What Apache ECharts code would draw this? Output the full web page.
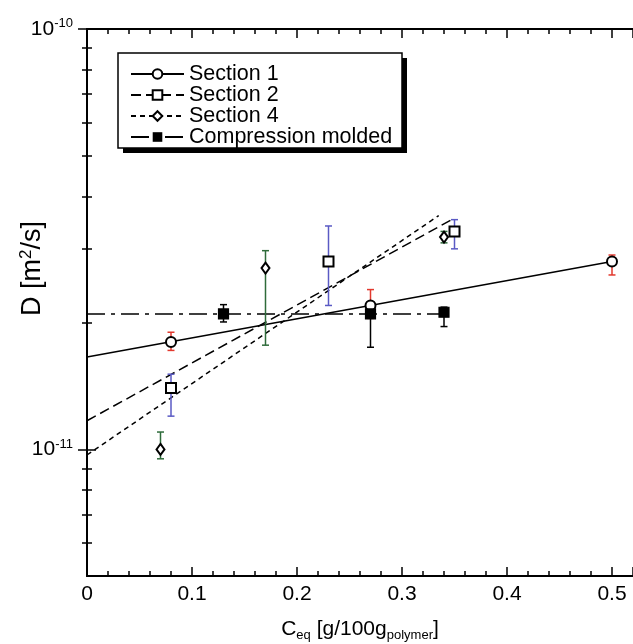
<!DOCTYPE html>
<html>
<head>
<meta charset="utf-8">
<script src="https://cdn.jsdelivr.net/npm/echarts/dist/echarts.min.js"></script>
<style>
  html, body { margin: 0; padding: 0; background: #fff; }
  #chart { width: 633px; height: 644px; }
</style>
</head>
<body>
<div id="chart"></div>
<script>
// --- data ---
var seriesNames = ['Section 1', 'Section 2', 'Section 4', 'Compression molded'];

var sec1X = [0.08, 0.27, 0.5];
var sec1Y = [1.8e-11, 2.2e-11, 2.8e-11];
var sec1Lo = [1.72e-11, 2.05e-11, 2.6e-11];
var sec1Hi = [1.9e-11, 2.4e-11, 2.9e-11];
var sec1FitX = [0, 0.5];
var sec1FitY = [1.66e-11, 2.8e-11];

var sec2X = [0.08, 0.23, 0.35];
var sec2Y = [1.4e-11, 2.8e-11, 3.3e-11];
var sec2Lo = [1.2e-11, 2.2e-11, 3.0e-11];
var sec2Hi = [1.51e-11, 3.4e-11, 3.52e-11];
var sec2FitX = [0, 0.35];
var sec2FitY = [1.17e-11, 3.55e-11];

var sec4X = [0.07, 0.17, 0.34];
var sec4Y = [1.0e-11, 2.7e-11, 3.2e-11];
var sec4Lo = [9.5e-12, 1.77e-11, 3.1e-11];
var sec4Hi = [1.1e-11, 2.97e-11, 3.3e-11];
var sec4FitX = [0, 0.335];
var sec4FitY = [9.7e-12, 3.6e-11];

var compX = [0.13, 0.27, 0.34];
var compY = [2.1e-11, 2.1e-11, 2.12e-11];
var compLo = [2.01e-11, 1.75e-11, 1.96e-11];
var compHi = [2.21e-11, 2.2e-11, 2.18e-11];
var compFitX = [0, 0.34];
var compFitY = [2.1e-11, 2.1e-11];

var yMajorTicks = [1e-11, 1e-10];
var yMinorTicks = [6e-12, 7e-12, 8e-12, 9e-12, 2e-11, 3e-11, 4e-11, 5e-11, 6e-11, 7e-11, 8e-11, 9e-11];

var FONT = '"Liberation Sans", Arial, Helvetica, sans-serif';
var RED = '#e2392e', BLUE = '#5a5ac4', GREEN = '#2e6b3a';

function pairs(xs, ys) {
  return xs.map(function (x, i) { return [x, ys[i]]; });
}
function bars(xs, lo, hi) {
  return xs.map(function (x, i) { return [x, lo[i], hi[i]]; });
}

function errorBar(color) {
  return function (params, api) {
    var x = api.value(0);
    var top = api.coord([x, api.value(2)]);
    var bot = api.coord([x, api.value(1)]);
    var w = 3.5;
    var st = { stroke: color, lineWidth: 1.5 };
    return {
      type: 'group',
      children: [
        { type: 'line', shape: { x1: top[0], y1: top[1], x2: bot[0], y2: bot[1] }, style: st },
        { type: 'line', shape: { x1: top[0] - w, y1: top[1], x2: top[0] + w, y2: top[1] }, style: st },
        { type: 'line', shape: { x1: bot[0] - w, y1: bot[1], x2: bot[0] + w, y2: bot[1] }, style: st }
      ]
    };
  };
}

function fitLine(name, xs, ys, dash, symbol) {
  return {
    name: name, type: 'line', z: 2,
    data: pairs(xs, ys),
    showSymbol: false, symbol: symbol,
    itemStyle: { color: '#000' },
    lineStyle: { color: '#000', width: 1.5, type: dash },
    silent: true, animation: false
  };
}
function errSeries(xs, lo, hi, color) {
  return {
    type: 'custom', z: 3, animation: false, silent: true,
    renderItem: errorBar(color),
    encode: { x: 0, y: [1, 2] },
    data: bars(xs, lo, hi)
  };
}
function points(xs, ys, symbol, size) {
  return {
    type: 'scatter', z: 4, animation: false, silent: true,
    symbol: symbol, symbolSize: size,
    itemStyle: { color: '#000', borderColor: '#000', borderWidth: 1.2, opacity: 1 },
    data: pairs(xs, ys)
  };
}

function xAxisCfg(pos, interval, tickLen, showLine, showLabel) {
  return {
    type: 'value', position: pos, min: 0, max: 0.52, interval: interval,
    nameMoveOverlap: false,
    axisLine: { show: showLine, lineStyle: { color: '#000', width: 2 } },
    axisTick: { show: true, inside: true, length: tickLen, lineStyle: { color: '#000', width: 1.5 } },
    axisLabel: {
      show: showLabel, color: '#000', fontSize: 21, fontFamily: FONT, margin: 8,
      formatter: function (v) {
        var k = Math.round(v * 10);
        return Math.abs(v * 10 - k) < 1e-6 ? (k === 0 ? '0' : (k / 10).toFixed(1)) : '';
      }
    },
    splitLine: { show: false }
  };
}

function yAxisCfg(pos, ticks, tickLen, showLine, showLabel) {
  return {
    type: 'log', logBase: 10, position: pos, min: 5e-12, max: 1e-10,
    nameMoveOverlap: false,
    axisLine: { show: showLine, lineStyle: { color: '#000', width: 2 } },
    axisTick: { show: true, inside: true, length: tickLen, customValues: ticks, lineStyle: { color: '#000', width: 1.5 } },
    axisLabel: {
      show: showLabel, customValues: ticks, margin: 14,
      formatter: function (v) { return '{b|10}{s|' + Math.round(Math.log10(v)) + '}'; },
      rich: {
        b: { fontSize: 21, fontFamily: FONT, color: '#000' },
        s: { fontSize: 13, fontFamily: FONT, color: '#000', padding: [0, 0, 11, 0] }
      }
    },
    splitLine: { show: false }
  };
}

var xMain = xAxisCfg('bottom', 0.1, 9, true, true);
xMain.name = '{n|C}{sub|eq}{n| [g/100g}{sub|polymer}{n|]}';
xMain.nameLocation = 'middle';
xMain.nameGap = 41;
xMain.nameTextStyle = {
  rich: {
    n: { fontSize: 21, fontFamily: FONT, color: '#000' },
    sub: { fontSize: 13, fontFamily: FONT, color: '#000', padding: [12, 0, 0, 0] }
  }
};

var yMain = yAxisCfg('left', yMajorTicks, 9, true, true);
yMain.name = '{n|D [m}{sup|2}{n|/s]}';
yMain.nameLocation = 'middle';
yMain.nameGap = 39;
yMain.nameTextStyle = {
  padding: [0, 0, 0, 68],
  rich: {
    n: { fontSize: 27, fontFamily: FONT, color: '#000' },
    sup: { fontSize: 17, fontFamily: FONT, color: '#000', padding: [0, 0, 13, 0] }
  }
};

// legend frame (box + offset shadow) in pixels
var legendBox = { x: 118, y: 53, w: 284, h: 95, shadow: 5 };

var chart = echarts.init(document.getElementById('chart'), null, { renderer: 'canvas' });
chart.setOption({
  animation: false,
  backgroundColor: '#fff',
  grid: { left: 87, right: 0, top: 29, bottom: 68, containLabel: false, outerBoundsMode: 'none' },
  graphic: [
    { type: 'rect', z: 5, silent: true,
      shape: { x: legendBox.x + legendBox.shadow, y: legendBox.y + legendBox.shadow, width: legendBox.w, height: legendBox.h },
      style: { fill: '#000' } },
    { type: 'rect', z: 5, silent: true,
      shape: { x: legendBox.x, y: legendBox.y, width: legendBox.w, height: legendBox.h },
      style: { fill: '#fff', stroke: '#000', lineWidth: 1.5 } }
  ],
  legend: {
    orient: 'vertical', left: 130, top: 63, z: 10,
    data: seriesNames,
    itemWidth: 53, itemHeight: 12, itemGap: -1,
    padding: 0,
    textStyle: { fontSize: 21.5, lineHeight: 19.7, fontFamily: FONT, color: '#000' },
    selectedMode: false
  },
  xAxis: [
    xMain,
    xAxisCfg('bottom', 0.02, 5, false, false),
    xAxisCfg('top', 0.1, 9, true, false),
    xAxisCfg('top', 0.02, 5, false, false)
  ],
  yAxis: [
    yMain,
    yAxisCfg('left', yMinorTicks, 5, false, false),
    yAxisCfg('right', yMajorTicks, 9, true, false),
    yAxisCfg('right', yMinorTicks, 5, false, false)
  ],
  series: [
    fitLine('Section 1', sec1FitX, sec1FitY, 'solid', 'emptyCircle'),
    fitLine('Section 2', sec2FitX, sec2FitY, [10, 5], 'emptyRect'),
    fitLine('Section 4', sec4FitX, sec4FitY, [5, 4], 'emptyDiamond'),
    fitLine('Compression molded', compFitX, compFitY, [18, 6, 4, 6], 'rect'),
    errSeries(sec1X, sec1Lo, sec1Hi, RED),
    errSeries(sec2X, sec2Lo, sec2Hi, BLUE),
    errSeries(sec4X, sec4Lo, sec4Hi, GREEN),
    errSeries(compX, compLo, compHi, '#000'),
    points(sec1X, sec1Y, 'emptyCircle', 10),
    points(sec2X, sec2Y, 'emptyRect', 10),
    points(sec4X, sec4Y, 'emptyDiamond', [8, 11]),
    points(compX, compY, 'rect', 10)
  ]
});
</script>
</body>
</html>
